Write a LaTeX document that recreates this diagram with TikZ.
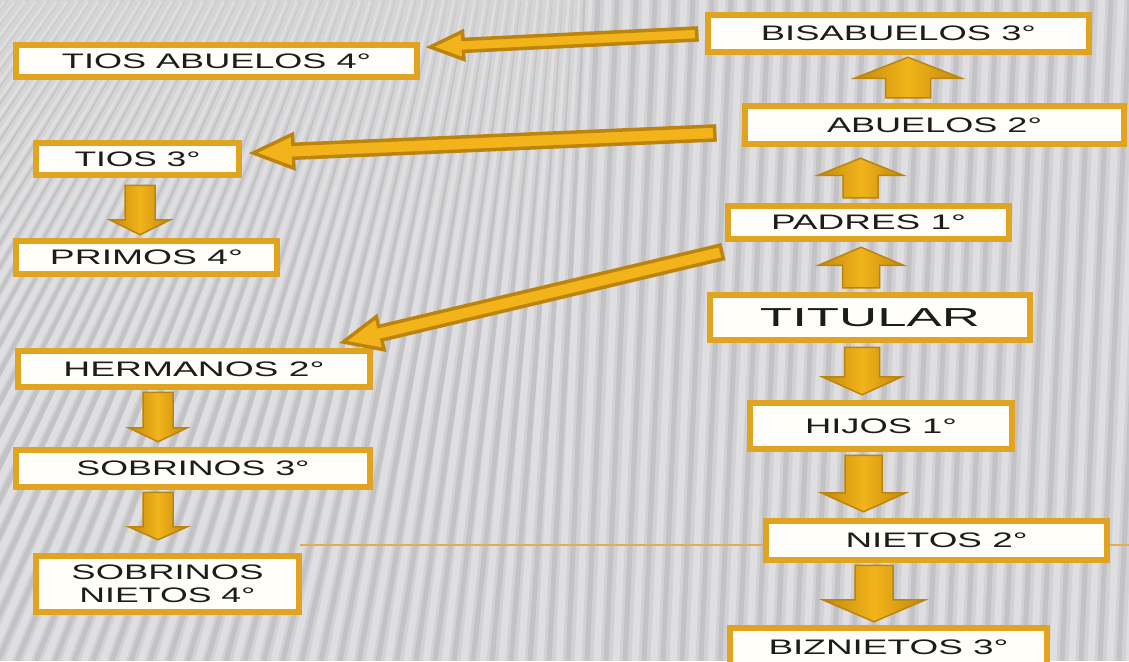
\documentclass[tikz,border=0pt]{standalone}
\usepackage{fontspec}
\usepackage{graphicx}
\setmainfont{Liberation Sans}
\usetikzlibrary{calc}
\definecolor{bggray}{RGB}{210,210,213}
\definecolor{boxgold}{RGB}{224,164,32}
\definecolor{boxfill}{RGB}{255,254,248}
\definecolor{txt}{RGB}{28,28,28}
\definecolor{arrfill}{RGB}{228,160,16}
\definecolor{arrlight}{RGB}{242,180,26}
\definecolor{arredge}{RGB}{188,132,12}
\definecolor{thinline}{RGB}{226,172,84}
\newcommand\fitw[2]{\resizebox{#1}{\height}{#2}}
\newcommand\blockarr[6]{%
  \coordinate (ba-s) at #2;
  \coordinate (ba-e) at #3;
  \coordinate (ba-b) at ($(ba-e)!#6!(ba-s)$);
  \path[#1] ($(ba-s)!#4!90:(ba-e)$) -- ($(ba-b)!#4!-90:(ba-s)$) -- ($(ba-b)!#5!-90:(ba-s)$) -- (ba-e)
    -- ($(ba-b)!#5!90:(ba-s)$) -- ($(ba-b)!#4!90:(ba-s)$) -- ($(ba-s)!#4!-90:(ba-e)$) -- cycle;
}
\tikzset{
  kin/.style={draw=boxgold, line width=6.5pt, fill=boxfill, inner sep=0pt, text=txt,
    font=\fontsize{21pt}{25pt}\selectfont, align=center},
  fatarr/.style={draw=arredge, line width=1.5pt, line join=miter, left color=arredge!85!arrfill, right color=arredge!85!arrfill, middle color=arrlight},
  longarr/.style={draw=arredge, line width=3.5pt, line join=miter, fill=arrlight},
  stripelight/.style={white, opacity=0.30, line width=7pt},
  stripedark/.style={black, opacity=0.07, line width=5pt},
}
\begin{document}
\begin{tikzpicture}[x=1pt,y=-1pt]
\useasboundingbox (0,0) rectangle (1129,661);
\fill[bggray] (0,0) rectangle (1129,661);
\begin{scope}
\clip (0,0) rectangle (1129,661);
\foreach \i in {0,...,100}{
  \pgfmathsetmacro\xb{-600+\i*19}
  \pgfmathsetmacro\dd{max(30,460-0.45*(\xb+400))}
  \draw[stripelight] (\xb,661) -- (\xb+\dd,0);
  \draw[stripedark] (\xb+9,661) -- (\xb+9+\dd,0);
}
\end{scope}
\coordinate (hl1) at (300,545);
\coordinate (hl2) at (1129,545);
\draw[thinline, line width=1.2pt] (hl1) -- (hl2);

% nodes
\node[kin, minimum width=381pt, minimum height=37pt] (bis) at (898.5,33.5) {\fitw{275pt}{BISABUELOS 3°}};
\node[kin, minimum width=379pt, minimum height=38pt] (abu) at (934.5,125) {\fitw{215pt}{ABUELOS 2°}};
\node[kin, minimum width=281pt, minimum height=33pt] (pad) at (868.5,222.5) {\fitw{195pt}{PADRES 1°}};
\node[kin, minimum width=320pt, minimum height=45pt, font=\fontsize{26pt}{30pt}\selectfont] (tit) at (870,317.5) {\fitw{220pt}{TITULAR}};
\node[kin, minimum width=262pt, minimum height=46pt] (hij) at (881,426) {\raisebox{-3pt}{\fitw{152pt}{HIJOS 1°}}};
\node[kin, minimum width=341pt, minimum height=39pt] (nie) at (936.5,540.5) {\fitw{182pt}{NIETOS 2°}};
\node[kin, minimum width=317pt, minimum height=38pt] (biz) at (888.5,647) {\fitw{240pt}{BIZNIETOS 3°}};

\node[kin, minimum width=401pt, minimum height=32pt] (tiab) at (216.5,61) {\fitw{309pt}{TIOS ABUELOS 4°}};
\node[kin, minimum width=203pt, minimum height=32pt] (tios) at (137.5,159) {\fitw{126pt}{TIOS 3°}};
\node[kin, minimum width=261pt, minimum height=33pt] (prim) at (146.5,257.5) {\fitw{193pt}{PRIMOS 4°}};
\node[kin, minimum width=352pt, minimum height=36pt] (her) at (194,369) {\fitw{261pt}{HERMANOS 2°}};
\node[kin, minimum width=354pt, minimum height=37pt] (sob) at (193,468.5) {\fitw{233pt}{SOBRINOS 3°}};
\node[kin, minimum width=263pt, minimum height=56pt, font=\fontsize{21pt}{23.5pt}\selectfont] (sn) at (167.5,584) {\raisebox{-2pt}{\fitw{192pt}{SOBRINOS}}\\\raisebox{-2pt}{\fitw{176pt}{NIETOS 4°}}};

% fat vertical arrows
\blockarr{fatarr}{([xshift=-26.5pt,yshift=5pt]abu.north)}{([xshift=9.5pt,yshift=-2pt]bis.south)}{22.5pt}{53.5pt}{21pt}
\blockarr{fatarr}{([xshift=-8pt,yshift=5pt]pad.north)}{([xshift=-74pt,yshift=-11pt]abu.south)}{17.5pt}{42.5pt}{17pt}
\blockarr{fatarr}{([xshift=-9pt,yshift=4pt]tit.north)}{([xshift=-7.5pt,yshift=-5pt]pad.south)}{18.5pt}{42.5pt}{18pt}
\blockarr{fatarr}{([xshift=-8pt,yshift=-4pt]tit.south)}{([xshift=-19pt,yshift=5pt]hij.north)}{17.5pt}{40pt}{18pt}
\blockarr{fatarr}{([xshift=-17.5pt,yshift=-3pt]hij.south)}{([xshift=-73pt,yshift=6pt]nie.north)}{18.5pt}{42.5pt}{19pt}
\blockarr{fatarr}{([xshift=-62.5pt,yshift=-2pt]nie.south)}{([xshift=-14.5pt,yshift=3pt]biz.north)}{19pt}{51.5pt}{22pt}
\blockarr{fatarr}{([xshift=2.5pt,yshift=-7pt]tios.south)}{([xshift=-6.5pt,yshift=3pt]prim.north)}{15pt}{30.5pt}{15pt}
\blockarr{fatarr}{([xshift=-36pt,yshift=-2pt]her.south)}{([xshift=-35pt,yshift=5pt]sob.north)}{15pt}{29.5pt}{14pt}
\blockarr{fatarr}{([xshift=-35pt,yshift=-2pt]sob.south)}{([xshift=-9.5pt,yshift=13pt]sn.north)}{15pt}{29.5pt}{13pt}

% long arrows
\blockarr{longarr}{([xshift=-8pt,yshift=-0.5pt]bis.west)}{([xshift=10pt,yshift=14pt]tiab.east)}{6pt}{14pt}{33pt}
\blockarr{longarr}{([xshift=-27pt,yshift=-8pt]abu.west)}{([xshift=11pt,yshift=6pt]tios.east)}{7pt}{17pt}{40pt}
\blockarr{longarr}{([xshift=-3pt,yshift=-29.5pt]pad.west)}{([xshift=-30pt,yshift=27pt]her.east)}{7pt}{17pt}{38pt}
\end{tikzpicture}
\end{document}
